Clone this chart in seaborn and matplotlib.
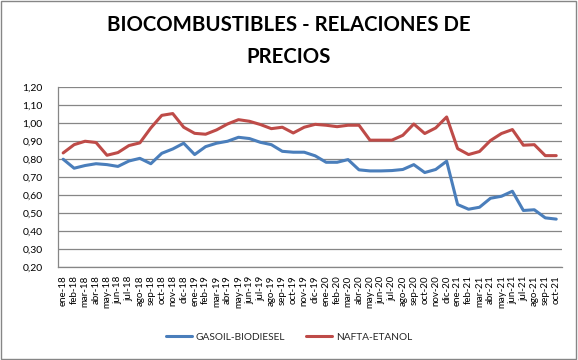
import pandas as pd
import matplotlib
matplotlib.use('Agg')
import matplotlib.pyplot as plt
import matplotlib.ticker as mticker
import seaborn as sns

# --- DATA ---
meses = ['ene', 'feb', 'mar', 'abr', 'may', 'jun', 'jul', 'ago', 'sep', 'oct', 'nov', 'dic']
periodos = [f'{m}-{a}' for a in ['18', '19', '20', '21'] for m in meses][:46]

gasoil_biodiesel = [0.80, 0.75, 0.765, 0.775, 0.77, 0.76, 0.79, 0.805, 0.775, 0.833, 0.857, 0.889,
                    0.826, 0.87, 0.889, 0.90, 0.922, 0.915, 0.894, 0.881, 0.844, 0.839, 0.839, 0.819,
                    0.783, 0.783, 0.798, 0.741, 0.735, 0.735, 0.737, 0.743, 0.77, 0.726, 0.743, 0.789,
                    0.548, 0.522, 0.533, 0.583, 0.594, 0.622, 0.515, 0.519, 0.474, 0.467]
nafta_etanol = [0.835, 0.881, 0.90, 0.893, 0.822, 0.837, 0.876, 0.891, 0.974, 1.044, 1.054, 0.978,
                0.944, 0.939, 0.963, 0.996, 1.02, 1.011, 0.993, 0.97, 0.978, 0.946, 0.978, 0.994,
                0.989, 0.981, 0.989, 0.989, 0.906, 0.906, 0.906, 0.933, 0.996, 0.943, 0.974, 1.035,
                0.859, 0.826, 0.843, 0.904, 0.943, 0.965, 0.878, 0.881, 0.82, 0.82]

series = ['GASOIL-BIODIESEL', 'NAFTA-ETANOL']
colores = ['#4a7ebb', '#be4b48']

df = pd.DataFrame({
    'periodo': periodos * 2,
    'valor': gasoil_biodiesel + nafta_etanol,
    'serie': [series[0]] * len(periodos) + [series[1]] * len(periodos),
})

# --- SETUP ---
sns.set_theme(style='white')
plt.rcParams['font.family'] = ['Lato', 'DejaVu Sans']

fig = plt.figure(figsize=(5.78, 3.6), dpi=100)
ax = fig.add_axes([0.0998, 0.258, 0.872, 0.4995])

sns.lineplot(data=df, x='periodo', y='valor', hue='serie', palette=colores,
             sort=False, linewidth=2.2, ax=ax, legend=False)

ax.set_xlim(-0.5, len(periodos) - 0.5)
ax.set_ylim(0.20, 1.20)
ax.yaxis.set_major_locator(mticker.MultipleLocator(0.10))
ax.yaxis.set_major_formatter(mticker.FuncFormatter(lambda v, _: f'{v:.2f}'.replace('.', ',')))
ax.grid(axis='y', color='#868686', linewidth=0.9)
ax.set_axisbelow(True)
ax.set_xlabel('')
ax.set_ylabel('')
for s in ['top', 'right']:
    ax.spines[s].set_visible(False)
for s in ['left', 'bottom']:
    ax.spines[s].set_color('#868686')
    ax.spines[s].set_linewidth(0.9)
ax.tick_params(axis='y', labelsize=7.5, pad=11, length=0, colors='black')
ax.tick_params(axis='x', labelsize=7.0, rotation=90, pad=6, length=0, colors='black')

fig.text(0.5, 0.886, 'BIOCOMBUSTIBLES - RELACIONES DE\nPRECIOS', ha='center', va='center',
         fontsize=14.7, fontweight='bold', linespacing=1.7, color='black')

handles = [plt.Line2D([], [], color=c, linewidth=2.2) for c in colores]
fig.legend(handles, series, loc='center', bbox_to_anchor=(0.5, 0.064), ncol=2, frameon=False,
           fontsize=7.3, handlelength=2.6, handletextpad=0.4, columnspacing=2.0)

fig.patches.append(plt.Rectangle((0.002, 0.003), 0.995, 0.993, transform=fig.transFigure,
                                 fill=False, edgecolor='#868686', linewidth=1.0))

fig.savefig('out.png', dpi=100)
